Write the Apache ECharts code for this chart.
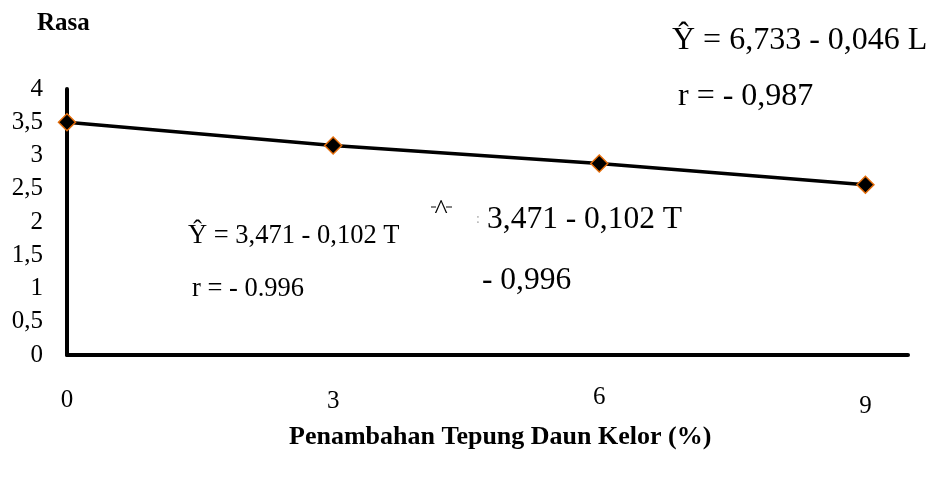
<!DOCTYPE html>
<html>
<head>
<meta charset="utf-8">
<script src="https://cdn.jsdelivr.net/npm/echarts@6/dist/echarts.min.js"></script>
<style>html,body{margin:0;padding:0;background:#fff;}#c{width:929px;height:480px;}</style>
</head>
<body>
<div id="c"></div>
<script>
var xValues = [0, 3, 6, 9];
var rasaValues = [3.5, 3.15, 2.88, 2.56];
var yTicks = ['0', '0,5', '1', '1,5', '2', '2,5', '3', '3,5', '4'];
var xTickLabels = ['0', '3', '6', '9'];
var yTitle = 'Rasa';
var xTitle = 'Penambahan Tepung Daun Kelor (%)';

var FONT = '"Liberation Serif", "Times New Roman", serif';
var chart = echarts.init(document.getElementById('c'));
var seriesData = xValues.map(function (x, i) { return [x, rasaValues[i]]; });

function txt(x, y, s, size, bold, color) {
  return { type: 'text', x: x, y: y, style: { text: s, font: (bold ? 'bold ' : '') + size + 'px ' + FONT, fill: color || '#000', textVerticalAlign: 'middle', textAlign: 'left' } };
}

chart.setOption({
  backgroundColor: '#fff',
  animation: false,
  grid: { left: 67, right: 21, top: 89, bottom: 125, containLabel: false },
  xAxis: {
    type: 'value', min: 0, max: 9.48, interval: 3,
    axisLine: { show: true, lineStyle: { color: '#000', width: 4 } },
    axisTick: { show: false },
    splitLine: { show: false },
    axisLabel: {
      margin: 33,
      showMaxLabel: false,
      formatter: function (v) {
        var i = xValues.indexOf(v);
        if (i < 0) return '';
        return '{l' + i + '|' + xTickLabels[i] + '}';
      },
      rich: {
        l0: { fontFamily: FONT, fontSize: 25, color: '#000', padding: [0, 0, 0, 0] },
        l1: { fontFamily: FONT, fontSize: 25, color: '#000', padding: [1, 0, 0, 0] },
        l2: { fontFamily: FONT, fontSize: 25, color: '#000', padding: [-3, 0, 0, 0] },
        l3: { fontFamily: FONT, fontSize: 25, color: '#000', padding: [6, 0, 0, 0] }
      }
    }
  },
  yAxis: {
    type: 'value', min: 0, max: 4, interval: 0.5,
    axisLine: { show: true, lineStyle: { color: '#000', width: 4 } },
    axisTick: { show: false },
    splitLine: { show: false },
    axisLabel: {
      margin: 24,
      fontFamily: FONT, fontSize: 25, color: '#000',
      formatter: function (v) { return yTicks[Math.round(v * 2)]; }
    }
  },
  series: [{
    type: 'line',
    data: seriesData,
    symbol: 'diamond',
    symbolSize: 17,
    lineStyle: { color: '#000', width: 3.5 },
    itemStyle: { color: '#000', borderColor: '#E46C0A', borderWidth: 1.5 },
    z: 3
  }],
  graphic: [
    txt(37, 24, yTitle, 25, true),
    txt(289, 437, xTitle, 26, true),
    txt(672, 41, 'Ŷ = 6,733 - 0,046 L', 32, false),
    txt(678, 97, 'r = - 0,987', 32, false),
    txt(188, 236, 'Ŷ = 3,471 - 0,102 T', 26.5, false),
    txt(192, 289, 'r = - 0.996', 26.5, false),
    { type: 'text', x: 441, y: 211, style: { text: '^', font: '28px ' + FONT, fill: '#000', textAlign: 'center', textVerticalAlign: 'middle' } },
    { type: 'line', shape: { x1: 431, y1: 207, x2: 436, y2: 207 }, style: { stroke: '#333', lineWidth: 1.2 } },
    { type: 'line', shape: { x1: 446, y1: 207, x2: 452, y2: 207 }, style: { stroke: '#333', lineWidth: 1.2 } },
    txt(476, 219, ':', 14, false, '#aaa'),
    txt(487, 220, '3,471 - 0,102 T', 31.5, false),
    txt(482, 281, '- 0,996', 31.5, false)
  ]
});
</script>
</body>
</html>
